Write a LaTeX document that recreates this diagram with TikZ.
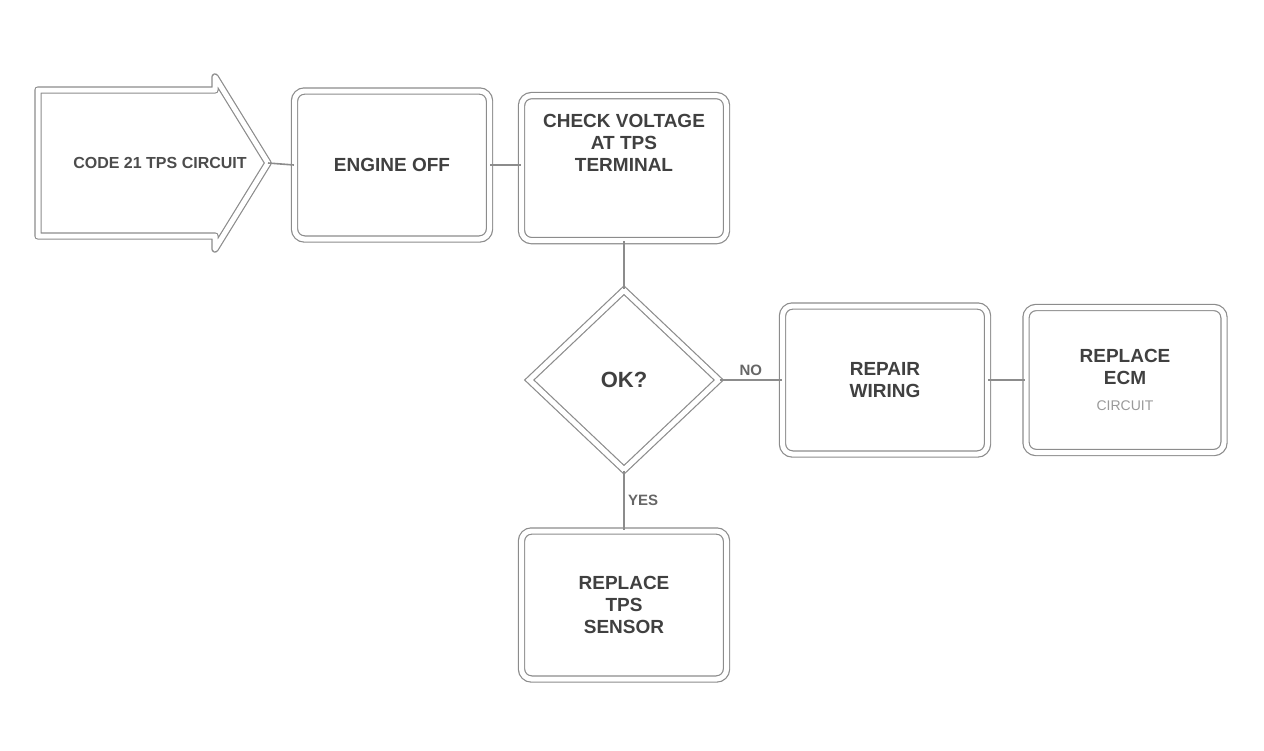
\documentclass[tikz,border=0pt]{standalone}
\usepackage{fontspec}
\setmainfont{Liberation Sans}
\usetikzlibrary{shapes.geometric}
\begin{document}
\begin{tikzpicture}[x=1pt,y=-1pt,
  box/.style={draw=black!45,line width=1.2pt,double=white,double distance=5pt,rounded corners=10pt,minimum width=#1,align=center,font=\fontsize{19}{22}\selectfont\bfseries,text=black!75,inner sep=6pt},
  box/.default=195pt,
  dia/.style={draw=black!45,line width=1.2pt,double=white,double distance=5pt,diamond,aspect=1.1,minimum width=190pt,minimum height=180pt,inner sep=0pt,align=center,font=\fontsize{22}{24}\selectfont\bfseries,text=black!75},
  conn/.style={draw=black!45,line width=1.6pt},
  lab/.style={font=\fontsize{15}{18}\selectfont\bfseries,text=black!60}]
\useasboundingbox (0,0) rectangle (1264,750);
% arrow-shaped first node
\draw[black!45,line width=1.2pt,double=white,double distance=5pt,line join=round]
  (38,90) -- (215,90) -- (215,77) -- (268,163) -- (215,249) -- (215,236) -- (38,236) -- cycle;
\node[font=\fontsize{16}{18}\selectfont\bfseries,text=black!70] (a) at (160,163) {CODE 21 TPS CIRCUIT};
\coordinate (atip) at (268,163);
\node[box,minimum height=148pt] (b) at (392,165) {ENGINE OFF};
\node[box=205pt,minimum height=145pt,anchor=north,text depth=50pt] (c) at (624,95) {CHECK VOLTAGE\\AT TPS\\TERMINAL};
\node[dia] (d) at (624,380) {OK?};
\node[box=205pt,minimum height=148pt] (e) at (885,380) {REPAIR\\WIRING};
\node[box=198pt,minimum height=145pt] (f) at (1125,380) {REPLACE\\ECM\\[4pt]\normalfont\fontsize{14}{16}\selectfont\color{black!40}CIRCUIT};
\node[box=205pt,minimum height=148pt] (g) at (624,605) {REPLACE\\TPS\\SENSOR};
\draw[conn] (atip) -- (b.west);
\draw[conn] (b.east) -- (c.west|-b.east);
\draw[conn] (c.south) -- (d.north);
\draw[conn] (d.east) -- node[lab,above] {NO} (e.west);
\draw[conn] (e.east) -- (f.west);
\draw[conn] (d.south) -- node[lab,right] {YES} (g.north);
\end{tikzpicture}
\end{document}
